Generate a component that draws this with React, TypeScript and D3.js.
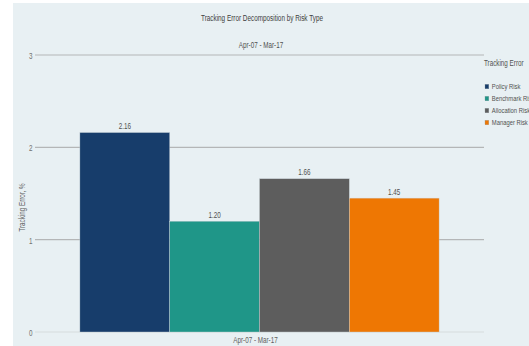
import React from "react";
import * as d3 from "d3";

const categories = ["Apr-07 - Mar-17"];
const seriesNames = ["Policy Risk", "Benchmark Risk", "Allocation Risk", "Manager Risk"];
const seriesValues = [2.16, 1.2, 1.66, 1.45];
const seriesColors = ["#173d6b", "#1f9688", "#5d5d5d", "#ee7703"];
const yTicks = [0, 1, 2, 3];

const W = 529;
const H = 346;
const FONT = "'Liberation Sans', Arial, sans-serif";
// horizontal squeeze giving the narrow, condensed lettering
const SQ = 0.75;

type TProps = {
  x: number;
  y: number;
  size: number;
  fill?: string;
  anchor?: "start" | "middle" | "end";
  rotate?: number;
  children: React.ReactNode;
};

function NText({ x, y, size, fill = "#505050", anchor = "start", rotate = 0, children }: TProps) {
  return (
    <text
      transform={`translate(${x},${y}) rotate(${rotate}) scale(${SQ},1)`}
      textAnchor={anchor}
      fontSize={size}
      fill={fill}
    >
      {children}
    </text>
  );
}

export default function App() {
  const left = 35;
  const right = 484;
  const top = 55;
  const bottom = 332;

  const y = d3.scaleLinear().domain([0, 3]).range([bottom, top]);
  const x0 = d3.scaleBand().domain(categories).range([left, right]).paddingInner(0).paddingOuter(0.125);
  const x1 = d3.scaleBand().domain(seriesNames).range([0, x0.bandwidth()]).padding(0);

  return (
    <svg width={W} height={H} style={{ position: "absolute", left: 0, top: 0, display: "block" }} fontFamily={FONT}>
      <rect x={0} y={0} width={W} height={H} fill="#ffffff" />
      <rect x={13} y={3} width={W - 13} height={H - 3} fill="#e8f0f3" />

      <NText x={262} y={21} size={8.5} fill="#404040" anchor="middle">
        Tracking Error Decomposition by Risk Type
      </NText>
      <NText x={261} y={47.5} size={8.4} fill="#505050" anchor="middle">
        Apr-07 - Mar-17
      </NText>

      {yTicks.map((t) => (
        <g key={t}>
          <line
            x1={left}
            x2={right}
            y1={y(t)}
            y2={y(t)}
            stroke={t === 0 ? "#d6dcde" : "#b4b6b7"}
            strokeWidth={1.2}
          />
          <NText x={32.5} y={y(t) + 4} size={8.4} fill="#707070" anchor="end">
            {t}
          </NText>
        </g>
      ))}

      <NText x={24.5} y={207.5} size={8.4} fill="#606060" anchor="middle" rotate={-90}>
        Tracking Error, %
      </NText>

      {categories.map((c) => (
        <g key={c} transform={`translate(${x0(c)},0)`}>
          {seriesNames.map((s, i) => {
            const v = seriesValues[i];
            const bx = x1(s) as number;
            const bw = x1.bandwidth();
            return (
              <g key={s}>
                <rect
                  x={bx}
                  y={y(v)}
                  width={bw}
                  height={y(0) - y(v)}
                  fill={seriesColors[i]}
                  stroke="#c9d3d8"
                  strokeWidth={0.4}
                />
                <NText x={bx + bw / 2} y={y(v) - 3.5} size={8.4} fill="#505050" anchor="middle">
                  {v.toFixed(2)}
                </NText>
              </g>
            );
          })}
          <NText x={x0.bandwidth() / 2 - 4} y={342.5} size={8.4} fill="#606060" anchor="middle">
            {c}
          </NText>
        </g>
      ))}

      <NText x={484} y={66} size={8.4} fill="#505050">
        Tracking Error
      </NText>
      {seriesNames.map((s, i) => (
        <g key={s} transform={`translate(485, ${89.3 + i * 12})`}>
          <rect x={0} y={-5} width={3.8} height={4.5} fill={seriesColors[i]} stroke="#8a9499" strokeWidth={0.3} />
          <NText x={6.8} y={0} size={7.8} fill="#505050">
            {s}
          </NText>
        </g>
      ))}
    </svg>
  );
}
